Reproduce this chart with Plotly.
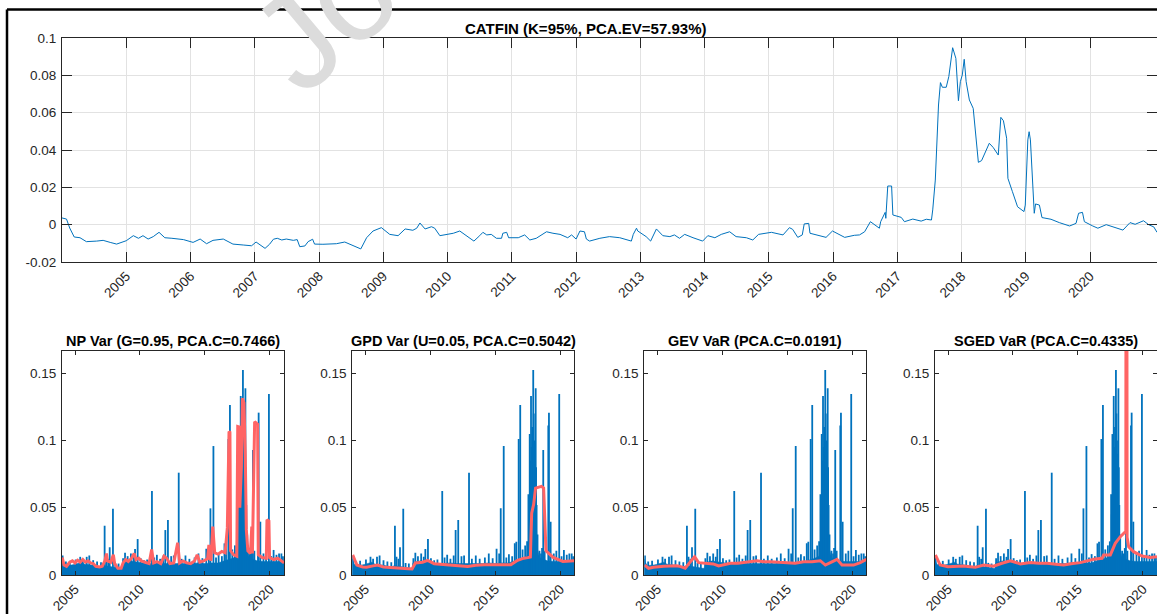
import plotly.graph_objects as go

W, H = 1157, 614

# ---------------- CATFIN (top panel) ----------------
cf_year = [2004.00, 2004.07, 2004.12, 2004.19, 2004.28, 2004.38, 2004.54, 2004.64, 2004.75, 2004.85,
           2005.00, 2005.11, 2005.19, 2005.26, 2005.34, 2005.42, 2005.51, 2005.60, 2005.71, 2005.78,
           2005.89, 2006.04, 2006.15, 2006.25, 2006.35, 2006.51, 2006.66, 2006.82, 2006.95, 2007.02,
           2007.16, 2007.23, 2007.29, 2007.35, 2007.42, 2007.49, 2007.60, 2007.66, 2007.70, 2007.78,
           2007.83, 2007.90, 2007.93, 2008.06, 2008.27, 2008.40, 2008.53, 2008.65, 2008.74, 2008.84,
           2008.97, 2009.10, 2009.23, 2009.34, 2009.46, 2009.52, 2009.57, 2009.65, 2009.75, 2009.80,
           2009.88, 2009.98, 2010.09, 2010.19, 2010.29, 2010.41, 2010.50, 2010.55, 2010.61, 2010.68,
           2010.76, 2010.84, 2010.86, 2010.92, 2010.95, 2011.10, 2011.20, 2011.28, 2011.38, 2011.54,
           2011.64, 2011.75, 2011.87, 2011.93, 2012.00, 2012.06, 2012.13, 2012.16, 2012.21, 2012.37,
           2012.52, 2012.68, 2012.86, 2012.89, 2012.94, 2012.96, 2013.09, 2013.16, 2013.25, 2013.35,
           2013.46, 2013.53, 2013.61, 2013.69, 2013.82, 2013.97, 2014.05, 2014.16, 2014.26, 2014.39,
           2014.49, 2014.65, 2014.75, 2014.84, 2015.04, 2015.22, 2015.32, 2015.37, 2015.45, 2015.52,
           2015.55, 2015.62, 2015.64, 2015.76, 2015.89, 2015.99, 2016.18, 2016.33, 2016.41, 2016.49,
           2016.58, 2016.72, 2016.74, 2016.81, 2016.82, 2016.85, 2016.91, 2016.93, 2017.06, 2017.11,
           2017.24, 2017.37, 2017.45, 2017.53, 2017.55, 2017.59, 2017.64, 2017.67, 2017.70, 2017.76,
           2017.80, 2017.86, 2017.91, 2017.95, 2017.98, 2018.01, 2018.04, 2018.07, 2018.12, 2018.18,
           2018.26, 2018.31, 2018.43, 2018.49, 2018.57, 2018.61, 2018.65, 2018.70, 2018.72, 2018.79,
           2018.87, 2018.97, 2018.99, 2019.03, 2019.05, 2019.07, 2019.13, 2019.15, 2019.21, 2019.25,
           2019.39, 2019.52, 2019.68, 2019.78, 2019.82, 2019.88, 2019.91, 2020.04, 2020.12, 2020.25,
           2020.38, 2020.51, 2020.62, 2020.70, 2020.83, 2020.91, 2020.99, 2021.04]
cf_val = [0.0036, 0.0030, -0.0018, -0.0066, -0.0070, -0.0091, -0.0088, -0.0084, -0.0095, -0.0104,
          -0.0086, -0.0059, -0.0073, -0.0059, -0.0077, -0.0064, -0.0041, -0.0070, -0.0073, -0.0077,
          -0.0080, -0.0095, -0.0077, -0.0102, -0.0084, -0.0077, -0.0104, -0.0109, -0.0113, -0.0093,
          -0.0127, -0.0105, -0.0078, -0.0073, -0.0082, -0.0077, -0.0084, -0.0080, -0.0118, -0.0114,
          -0.0091, -0.0078, -0.0104, -0.0105, -0.0102, -0.0093, -0.0113, -0.0130, -0.0070, -0.0034,
          -0.0016, -0.0052, -0.0059, -0.0023, -0.0030, -0.0019, 0.0009, -0.0023, -0.0011, -0.0019,
          -0.0059, -0.0052, -0.0046, -0.0034, -0.0059, -0.0088, -0.0059, -0.0041, -0.0055, -0.0052,
          -0.0073, -0.0073, -0.0046, -0.0041, -0.0070, -0.0070, -0.0055, -0.0082, -0.0073, -0.0038,
          -0.0046, -0.0052, -0.0070, -0.0055, -0.0077, -0.0034, -0.0038, -0.0077, -0.0088, -0.0073,
          -0.0064, -0.0070, -0.0088, -0.0052, -0.0019, -0.0034, -0.0064, -0.0088, -0.0023, -0.0059,
          -0.0064, -0.0055, -0.0073, -0.0052, -0.0070, -0.0088, -0.0059, -0.0070, -0.0052, -0.0038,
          -0.0064, -0.0070, -0.0082, -0.0052, -0.0041, -0.0055, -0.0016, -0.0025, -0.0068, -0.0055,
          0.0004, 0.0007, -0.0046, -0.0057, -0.0068, -0.0034, -0.0068, -0.0057, -0.0055, -0.0038,
          0.0016, -0.0019, 0.0016, 0.0066, 0.0034, 0.0207, 0.0207, 0.0052, 0.0039, 0.0016,
          0.0030, 0.0019, 0.0029, 0.0025, 0.0079, 0.0239, 0.0641, 0.0761, 0.0736, 0.0736,
          0.0793, 0.0948, 0.0891, 0.0664, 0.0766, 0.0802, 0.0886, 0.0766, 0.0668, 0.0623,
          0.0334, 0.0343, 0.0436, 0.0414, 0.0373, 0.0575, 0.0557, 0.0463, 0.0248, 0.0177,
          0.0096, 0.0070, 0.0105, 0.0454, 0.0498, 0.0454, 0.0061, 0.0111, 0.0105, 0.0038,
          0.0029, 0.0011, -0.0007, 0.0007, 0.0061, 0.0066, 0.0016, -0.0007, -0.0019, 0.0000,
          -0.0016, -0.0029, 0.0011, 0.0002, 0.0021, 0.0000, -0.0012, -0.0041]

# ---------------- loss series (blue bars, same in all 4 lower panels) ----------------
base_year = [2004.00, 2004.10, 2004.25, 2004.50, 2004.75, 2005.00, 2005.25, 2005.50, 2005.75, 2006.00,
             2006.25, 2006.50, 2006.75, 2007.00, 2007.25, 2007.50, 2007.75, 2008.00, 2008.25, 2008.50,
             2008.62, 2008.66, 2009.00, 2009.25, 2009.50, 2009.75, 2010.00, 2010.50, 2011.00, 2011.50,
             2012.00, 2012.50, 2013.00, 2013.50, 2014.00, 2014.50, 2015.00, 2015.50, 2016.00, 2016.50,
             2016.75, 2017.00, 2017.25, 2017.45, 2017.55, 2017.65, 2017.75, 2017.85, 2017.95, 2018.05,
             2018.15, 2018.25, 2018.40, 2018.60, 2019.00, 2019.50, 2020.00, 2020.50, 2021.08]
base_val = [0.012, 0.009, 0.007, 0.007, 0.0075, 0.008, 0.009, 0.0095, 0.008, 0.008,
            0.0075, 0.007, 0.0065, 0.006, 0.007, 0.0065, 0.006, 0.0055, 0.005, 0.005,
            0.005, 0.009, 0.010, 0.0105, 0.010, 0.0095, 0.009, 0.0085, 0.0085, 0.009,
            0.0085, 0.0085, 0.0085, 0.008, 0.0085, 0.009, 0.0085, 0.009, 0.009, 0.0105,
            0.011, 0.012, 0.013, 0.014, 0.022, 0.040, 0.060, 0.070, 0.075, 0.055,
            0.032, 0.019, 0.013, 0.012, 0.0105, 0.010, 0.010, 0.010, 0.010]

spike_year = [2004.05, 2004.30, 2004.60, 2005.05, 2005.40, 2005.60, 2005.90, 2006.10, 2006.40, 2006.70,
              2007.00, 2007.28, 2007.40, 2007.55, 2007.67, 2007.92, 2008.10, 2008.35, 2008.70, 2008.85,
              2009.05, 2009.30, 2009.50, 2009.62, 2009.82, 2010.05, 2010.30, 2010.55, 2010.92, 2011.10,
              2011.30, 2011.55, 2011.80, 2011.95, 2012.15, 2012.40, 2012.60, 2012.98, 2013.20, 2013.50,
              2013.80, 2014.20, 2014.50, 2014.80, 2015.10, 2015.30, 2015.42, 2015.65, 2015.85, 2016.05,
              2016.30, 2016.50, 2016.62, 2016.80, 2016.92, 2017.10, 2017.30, 2017.45, 2017.55, 2017.60,
              2017.65, 2017.70, 2017.75, 2017.80, 2017.85, 2017.88, 2017.92, 2017.96, 2018.00, 2018.05,
              2018.11, 2018.14, 2018.18, 2018.25, 2018.40, 2018.52, 2018.60, 2018.69, 2018.80, 2019.08,
              2019.13, 2019.26, 2019.50, 2019.70, 2019.92, 2020.10, 2020.28, 2020.50, 2020.70, 2020.88,
              2021.00]
spike_val = [0.0145, 0.010, 0.0105, 0.0115, 0.0135, 0.012, 0.0135, 0.0145, 0.011, 0.010,
             0.0095, 0.0366, 0.0135, 0.012, 0.0206, 0.0493, 0.009, 0.0085, 0.0125, 0.0165,
             0.014, 0.016, 0.0135, 0.0193, 0.0267, 0.0125, 0.011, 0.0115, 0.0624, 0.013,
             0.015, 0.012, 0.0145, 0.0334, 0.0409, 0.014, 0.0145, 0.0760, 0.012, 0.0145,
             0.012, 0.013, 0.016, 0.0125, 0.0195, 0.016, 0.0495, 0.0958, 0.013, 0.0155,
             0.014, 0.0235, 0.0247, 0.1010, 0.1263, 0.019, 0.022, 0.025, 0.060, 0.045,
             0.1047, 0.085, 0.1330, 0.095, 0.110, 0.070, 0.1523, 0.120, 0.100, 0.090,
             0.1387, 0.080, 0.0520, 0.030, 0.018, 0.016, 0.020, 0.0929, 0.018, 0.1110,
             0.1206, 0.0396, 0.016, 0.018, 0.1345, 0.014, 0.0186, 0.015, 0.016, 0.016,
             0.014]

# ---------------- VaR estimates (red lines) ----------------
np_year = [2004.02, 2004.15, 2004.35, 2004.6, 2004.8, 2005.0, 2005.2, 2005.4, 2005.6, 2005.8,
           2006.0, 2006.2, 2006.4, 2006.6, 2006.9, 2007.1, 2007.3, 2007.42, 2007.5, 2007.75,
           2007.95, 2008.05, 2008.3, 2008.55, 2008.7, 2008.9, 2009.1, 2009.35, 2009.55, 2009.7,
           2009.9, 2010.1, 2010.4, 2010.7, 2010.9, 2011.05, 2011.3, 2011.6, 2011.85, 2012.05,
           2012.3, 2012.6, 2012.9, 2013.05, 2013.3, 2013.6, 2013.9, 2014.2, 2014.4, 2014.6,
           2014.9, 2015.2, 2015.3, 2015.45, 2015.6, 2015.75, 2016.0, 2016.3, 2016.55, 2016.72,
           2016.85, 2016.92, 2016.97, 2017.2, 2017.45, 2017.52, 2017.62, 2017.68, 2017.8, 2017.88,
           2018.0, 2018.1, 2018.18, 2018.3, 2018.5, 2018.6, 2018.65, 2018.82, 2019.05, 2019.1,
           2019.4, 2019.72, 2019.77, 2019.92, 2019.97, 2020.3, 2020.6, 2020.9, 2021.08]
np_val = [0.013, 0.0075, 0.0065, 0.0095, 0.0105, 0.009, 0.011, 0.0095, 0.0115, 0.0095,
          0.0105, 0.009, 0.0085, 0.0065, 0.006, 0.0065, 0.0105, 0.016, 0.0105, 0.0095,
          0.015, 0.0085, 0.005, 0.005, 0.009, 0.0115, 0.010, 0.0125, 0.016, 0.0115,
          0.0125, 0.0105, 0.0095, 0.0085, 0.019, 0.009, 0.010, 0.0085, 0.014, 0.0125,
          0.0085, 0.009, 0.024, 0.009, 0.0105, 0.009, 0.0085, 0.0105, 0.015, 0.0095,
          0.0105, 0.012, 0.0223, 0.0105, 0.0359, 0.0165, 0.0155, 0.0175, 0.0165, 0.035,
          0.1065, 0.106, 0.018, 0.015, 0.014, 0.1103, 0.110, 0.050, 0.080, 0.1313,
          0.128, 0.090, 0.0337, 0.018, 0.016, 0.036, 0.016, 0.1139, 0.112, 0.015,
          0.013, 0.0125, 0.041, 0.040, 0.013, 0.0115, 0.0125, 0.010, 0.009]

gpd_year = [2004.03, 2004.35, 2004.8, 2005.1, 2005.6, 2005.95, 2006.4, 2006.72, 2007.3, 2007.75,
            2008.3, 2008.6, 2008.85, 2009.4, 2009.8, 2010.3, 2011.0, 2011.59, 2012.3, 2012.88,
            2013.5, 2014.15, 2015.2, 2016.2, 2016.72, 2017.2, 2017.5, 2017.7, 2017.8, 2017.95,
            2018.1, 2018.55, 2018.72, 2018.9, 2019.45, 2020.2, 2021.08]
gpd_val = [0.0149, 0.0074, 0.006, 0.0057, 0.0068, 0.0074, 0.006, 0.0057, 0.0052, 0.005,
           0.0047, 0.0045, 0.0089, 0.0095, 0.0109, 0.0084, 0.0078, 0.0072, 0.0068, 0.0064,
           0.0072, 0.0077, 0.0077, 0.0077, 0.0109, 0.0125, 0.0129, 0.0134, 0.046, 0.0523,
           0.0646, 0.0659, 0.0646, 0.018, 0.0131, 0.0101, 0.0106]

gev_year = [2004.03, 2004.33, 2004.7, 2005.0, 2005.5, 2006.0, 2006.5, 2006.8, 2007.15, 2007.55,
            2007.87, 2008.18, 2008.5, 2008.83, 2009.3, 2009.72, 2010.2, 2010.62, 2011.2, 2011.64,
            2012.2, 2012.67, 2013.2, 2013.7, 2014.4, 2014.98, 2015.6, 2016.26, 2016.9, 2017.54,
            2017.93, 2018.31, 2018.83, 2019.21, 2019.7, 2020.1, 2020.62, 2021.08]
gev_val = [0.0074, 0.005, 0.0058, 0.0062, 0.0065, 0.0067, 0.0068, 0.0062, 0.005, 0.0099,
           0.0136, 0.0092, 0.0089, 0.0087, 0.0082, 0.0067, 0.0078, 0.0087, 0.0088, 0.0092,
           0.0098, 0.0106, 0.0098, 0.0099, 0.0094, 0.0092, 0.0088, 0.0099, 0.0098, 0.0106,
           0.0074, 0.0092, 0.0116, 0.0074, 0.0072, 0.0074, 0.0092, 0.0116]

sged_year = [2004.03, 2004.4, 2005.0, 2005.6, 2006.2, 2006.7, 2007.1, 2007.74, 2008.5, 2009.15,
             2009.8, 2010.57, 2011.33, 2012.0, 2012.62, 2013.3, 2013.9, 2014.6, 2015.18, 2016.2,
             2016.85, 2016.97, 2017.49, 2017.87, 2018.26, 2018.57, 2018.68, 2018.71, 2018.74, 2018.78,
             2018.9, 2019.28, 2019.93, 2020.57, 2021.08]
sged_val = [0.0149, 0.0074, 0.0062, 0.0066, 0.0067, 0.0062, 0.0057, 0.0074, 0.0065, 0.0087,
            0.0106, 0.0082, 0.0092, 0.0088, 0.0087, 0.008, 0.0074, 0.0085, 0.0092, 0.0117,
            0.0124, 0.0149, 0.0149, 0.0235, 0.0285, 0.0314, 0.032, 0.5, 0.5, 0.028,
            0.021, 0.0173, 0.0141, 0.0131, 0.0136]

top_title = "CATFIN (K=95%, PCA.EV=57.93%)"
panel_titles = ["NP Var (G=0.95, PCA.C=0.7466)", "GPD Var (U=0.05, PCA.C=0.5042)",
                "GEV VaR (PCA.C=0.0191)", "SGED VaR (PCA.C=0.4335)"]
top_xticks = list(range(2005, 2021))
bot_xticks = [2005, 2010, 2015, 2020]
top_yticks = [-0.02, 0, 0.02, 0.04, 0.06, 0.08, 0.1]
top_ylabels = ["-0.02", "0", "0.02", "0.04", "0.06", "0.08", "0.1"]
bot_yticks = [0, 0.05, 0.1, 0.15]
bot_ylabels = ["0", "0.05", "0.1", "0.15"]

BLUE = "#0072BD"
RED = "#FF6464"
AX = "#262626"
FONT = "Liberation Sans, Arial, sans-serif"

def px(x):
    return x / W

def py(y):
    return 1 - y / H

fig = go.Figure()

# top panel
fig.add_trace(go.Scatter(x=cf_year, y=cf_val, mode="lines", line=dict(color=BLUE, width=1),
                         xaxis="x", yaxis="y", showlegend=False))

red_sets = [(np_year, np_val), (gpd_year, gpd_val), (gev_year, gev_val), (sged_year, sged_val)]
sx, sy = [], []
for yr, v in zip(spike_year, spike_val):
    sx += [yr, yr, None]
    sy += [0, v, None]

for i in range(4):
    xa = "x%d" % (i + 2)
    ya = "y%d" % (i + 2)
    fig.add_trace(go.Scatter(x=base_year, y=base_val, mode="lines", fill="tozeroy",
                             fillcolor=BLUE, line=dict(color=BLUE, width=0.5),
                             xaxis=xa, yaxis=ya, showlegend=False))
    fig.add_trace(go.Scatter(x=sx, y=sy, mode="lines", line=dict(color=BLUE, width=1.8),
                             xaxis=xa, yaxis=ya, showlegend=False, connectgaps=False))
    ry, rv = red_sets[i]
    fig.add_trace(go.Scatter(x=ry, y=rv, mode="lines", line=dict(color=RED, width=3),
                             xaxis=xa, yaxis=ya, showlegend=False))

common = dict(showline=True, linecolor=AX, linewidth=1, mirror="allticks", ticks="inside",
              tickcolor=AX, zeroline=False, automargin=False,
              tickfont=dict(family=FONT, size=13.5, color=AX))

layout = dict(width=W, height=H, margin=dict(l=0, r=0, t=0, b=0, autoexpand=False),
              paper_bgcolor="white", plot_bgcolor="white", showlegend=False)

layout["xaxis"] = dict(common, domain=[px(62), 1.0], range=[2004.0, 2021.04], anchor="y",
                       tickvals=top_xticks, ticktext=[str(t) for t in top_xticks], tickangle=-45,
                       ticklen=10, showgrid=True, gridcolor="#e2e2e2")
layout["yaxis"] = dict(common, domain=[py(262), py(38)], range=[-0.02, 0.1], anchor="x",
                       tickvals=top_yticks, ticktext=top_ylabels, ticklen=10, showgrid=True,
                       gridcolor="#e2e2e2", ticklabelstandoff=2)

lefts = [62, 352.3, 644.3, 935]
for i in range(4):
    n = i + 2
    layout["xaxis%d" % n] = dict(common, domain=[px(lefts[i]), min(1.0, px(lefts[i] + 222))],
                                 range=[2004.0, 2021.08], anchor="y%d" % n,
                                 tickvals=bot_xticks, ticktext=[str(t) for t in bot_xticks],
                                 tickangle=-45, ticklen=4, showgrid=False)
    layout["yaxis%d" % n] = dict(common, domain=[py(575), py(351)], range=[0, 0.1664],
                                 anchor="x%d" % n, tickvals=bot_yticks, ticktext=bot_ylabels,
                                 ticklen=4, showgrid=False, ticklabelstandoff=2)

ann = [dict(text="<b>%s</b>" % top_title, x=px(585), y=py(28), xref="paper", yref="paper",
            showarrow=False, xanchor="center", yanchor="middle",
            font=dict(family=FONT, size=15, color="black"))]
centers = [172.8, 463.8, 755.3, 1046]
for c, t in zip(centers, panel_titles):
    ann.append(dict(text="<b>%s</b>" % t, x=px(c), y=py(340.7), xref="paper", yref="paper",
                    showarrow=False, xanchor="center", yanchor="middle",
                    font=dict(family=FONT, size=14.5, color="black")))
# watermark (partly outside the picture, as in the original)
ann.append(dict(text="J", x=px(297), y=py(41), xref="paper", yref="paper", showarrow=False,
                xanchor="center", yanchor="middle", textangle=-40,
                font=dict(family=FONT, size=136, color="#dcdcdc")))
ann.append(dict(text="o", x=px(349), y=py(-6), xref="paper", yref="paper", showarrow=False,
                xanchor="center", yanchor="middle", textangle=-40,
                font=dict(family=FONT, size=136, color="#dcdcdc")))
layout["annotations"] = ann

layout["shapes"] = [
    dict(type="line", xref="paper", yref="paper", x0=px(7), x1=px(7), y0=0, y1=py(9.5),
         line=dict(color="black", width=2.5)),
    dict(type="line", xref="paper", yref="paper", x0=px(7), x1=1.0, y0=py(9.5), y1=py(9.5),
         line=dict(color="black", width=2.5)),
]

fig.update_layout(**layout)
fig.write_html("out.html")
